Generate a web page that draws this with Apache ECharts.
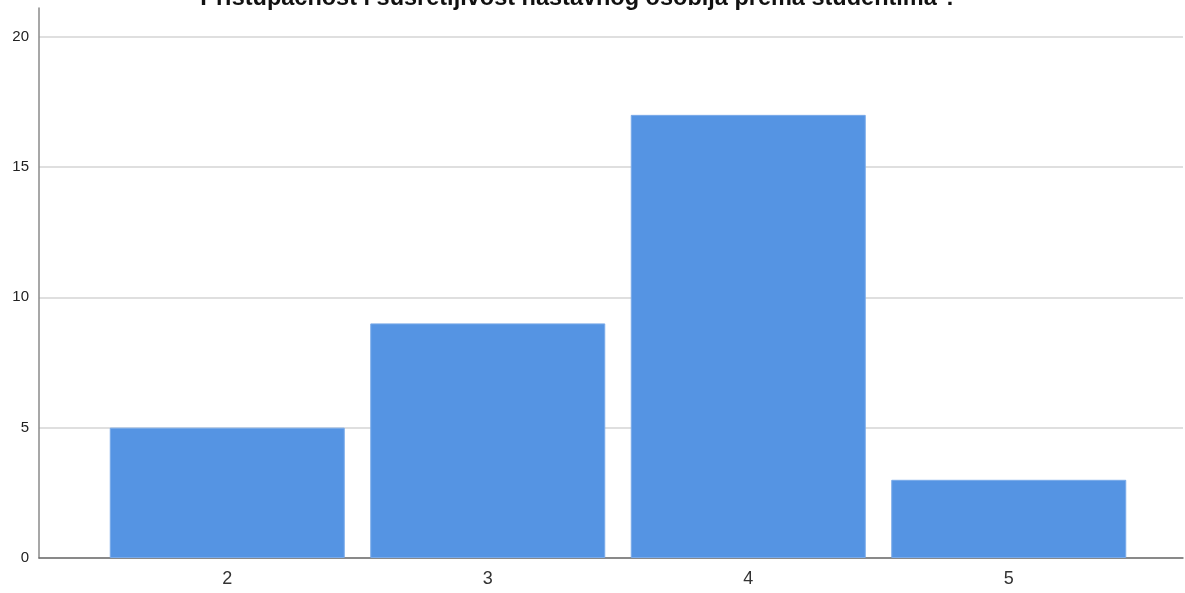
<!DOCTYPE html>
<html>
<head>
<meta charset="utf-8">
<script src="https://cdn.jsdelivr.net/npm/echarts@6/dist/echarts.min.js"></script>
<style>html,body{margin:0;padding:0;background:#fff;}#c{width:1185px;height:593px;}</style>
</head>
<body>
<div id="c"></div>
<script>
const titleText = 'Pristupačnost i susretljivost nastavnog osobija prema studentima ?';
const categories = ['2', '3', '4', '5'];
const counts = [5, 9, 17, 3];
const yTicks = [0, 5, 10, 15, 20];

const chart = echarts.init(document.getElementById('c'), null, {renderer: 'canvas'});
const yMax = 21.1;
chart.setOption({
  animation: false,
  backgroundColor: '#fff',
  title: {
    text: titleText,
    left: 574,
    textAlign: 'center',
    top: -18,
    textStyle: {fontFamily: 'Liberation Sans, Arial', fontWeight: 'bold', fontSize: 23.5, color: '#111'}
  },
  grid: [
    {left: 39, right: 2, top: 8, bottom: 35},
    {left: 97, right: 46, top: 8, bottom: 35}
  ],
  xAxis: [
    {gridIndex: 0, type: 'category', data: categories, boundaryGap: true,
     axisLine: {show: true, lineStyle: {color: '#6e6e6e', width: 1.5}},
     axisTick: {show: false}, axisLabel: {show: false}, splitLine: {show: false}},
    {gridIndex: 1, type: 'category', data: categories,
     axisLine: {show: false}, axisTick: {show: false},
     axisLabel: {color: '#333', fontSize: 18, fontFamily: 'Liberation Sans, Arial', margin: 12}}
  ],
  yAxis: [
    {gridIndex: 0, type: 'value', min: 0, max: yMax, interval: 5,
     axisLine: {show: true, lineStyle: {color: '#8a8a8a', width: 1.5}},
     axisTick: {show: false},
     axisLabel: {color: '#222', fontSize: 15, fontFamily: 'Liberation Sans, Arial', margin: 10,
       padding: [5, 0, 0, 0],
       formatter: v => yTicks.includes(v) ? String(v) : ''},
     splitLine: {show: true, showMaxLine: false, lineStyle: {color: '#d4d4d4', width: 1.5}}},
    {gridIndex: 1, type: 'value', min: 0, max: yMax, show: false, splitLine: {show: false}}
  ],
  series: [{
    type: 'bar',
    xAxisIndex: 1,
    yAxisIndex: 1,
    data: counts,
    barWidth: 235,
    itemStyle: {color: '#5594e3', borderColor: '#7aaae9', borderWidth: 1}
  }]
});
</script>
</body>
</html>
